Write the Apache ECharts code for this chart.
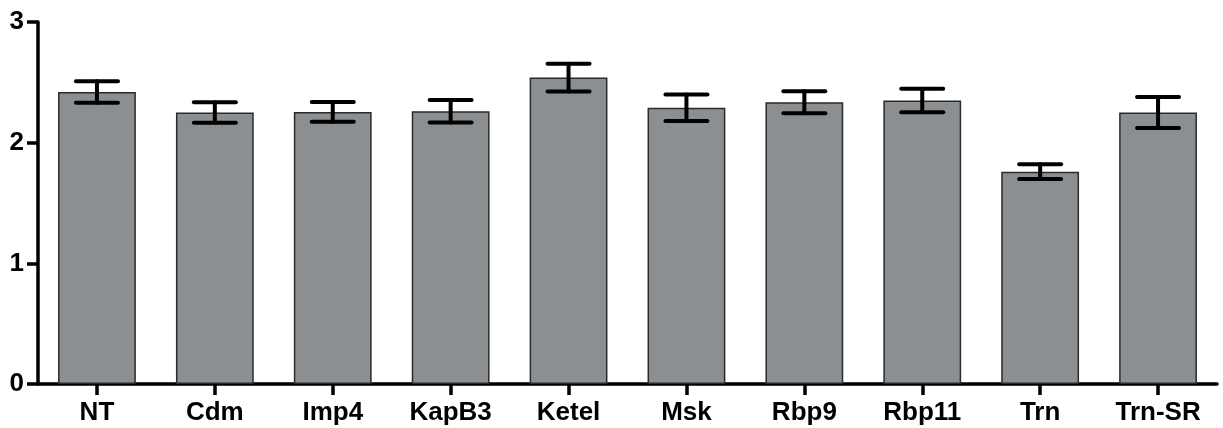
<!DOCTYPE html>
<html>
<head>
<meta charset="utf-8">
<style>
  html, body { margin: 0; padding: 0; background: #fff; }
  #chart { width: 1223px; height: 428px; }
</style>
<script src="https://cdn.jsdelivr.net/npm/echarts@6/dist/echarts.min.js"></script>
</head>
<body>
<div id="chart"></div>
<script>
// Groups along the x axis
const categories = ['NT', 'Cdm', 'Imp4', 'KapB3', 'Ketel', 'Msk', 'Rbp9', 'Rbp11', 'Trn', 'Trn-SR'];
// Mean value of each group
const means = [2.42, 2.25, 2.255, 2.26, 2.54, 2.29, 2.335, 2.35, 1.76, 2.25];
// Error (± half-range) of each group
const errors = [0.09, 0.085, 0.082, 0.093, 0.115, 0.11, 0.092, 0.097, 0.061, 0.128];
// Y axis ticks
const yTicks = [0, 1, 2, 3];

const chart = echarts.init(document.getElementById('chart'), null, { renderer: 'canvas' });

const errorData = categories.map((c, i) => [i, means[i] - errors[i], means[i] + errors[i]]);

const option = {
  animation: false,
  backgroundColor: '#ffffff',
  grid: { left: 38, right: 6, top: 22, bottom: 44, containLabel: false },
  xAxis: {
    type: 'category',
    data: categories,
    boundaryGap: true,
    axisLine: { show: true, lineStyle: { color: '#000', width: 3.5 } },
    axisTick: { show: true, alignWithLabel: true, length: 11, lineStyle: { color: '#000', width: 3.5 } },
    axisLabel: {
      color: '#000', fontFamily: 'Liberation Sans, Arial, sans-serif',
      fontWeight: 'bold', fontSize: 26, margin: 16, interval: 0
    },
    splitLine: { show: false }
  },
  yAxis: {
    type: 'value',
    min: yTicks[0],
    max: yTicks[yTicks.length - 1],
    interval: 1,
    axisLine: { show: true, lineStyle: { color: '#000', width: 3.5 } },
    axisTick: { show: true, length: 11, lineStyle: { color: '#000', width: 3.5 } },
    axisLabel: {
      color: '#000', fontFamily: 'Liberation Sans, Arial, sans-serif',
      fontWeight: 'bold', fontSize: 26, margin: 14
    },
    splitLine: { show: false }
  },
  series: [
    {
      type: 'bar',
      data: means,
      barCategoryGap: '34%',
      itemStyle: { color: '#8c8f91', borderColor: '#2a2a2a', borderWidth: 1.5 },
      z: 2
    },
    {
      type: 'custom',
      data: errorData,
      z: 5,
      renderItem: function (params, api) {
        const x = api.value(0);
        const lo = api.coord([x, api.value(1)]);
        const hi = api.coord([x, api.value(2)]);
        const half = 21;
        const style = { stroke: '#000', lineWidth: 4, lineCap: 'round' };
        return {
          type: 'group',
          children: [
            { type: 'line', shape: { x1: hi[0], y1: hi[1], x2: lo[0], y2: lo[1] }, style: style },
            { type: 'line', shape: { x1: hi[0] - half, y1: hi[1], x2: hi[0] + half, y2: hi[1] }, style: style },
            { type: 'line', shape: { x1: lo[0] - half, y1: lo[1], x2: lo[0] + half, y2: lo[1] }, style: style }
          ]
        };
      }
    }
  ]
};

chart.setOption(option);
</script>
</body>
</html>
